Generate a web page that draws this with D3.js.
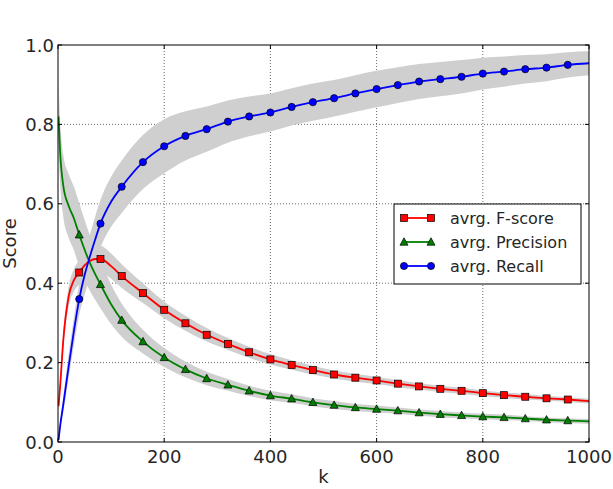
<!DOCTYPE html>
<html>
<head>
<meta charset="utf-8">
<script src="https://cdn.jsdelivr.net/npm/d3@7"></script>
<style>
  body { margin: 0; background: #fff; }
  svg text { font-family: "DejaVu Sans", sans-serif; fill: #262626; }
</style>
</head>
<body>
<div id="chart"></div>
<script>
// k values the curves were sampled at (markers sit on multiples of 40)
const kVals = [1, 4, 10, 20, 30, 40, 50, 60, 70, 80, 100, 120, 160, 200, 240, 280, 320, 360, 400,
  440, 480, 520, 560, 600, 640, 680, 720, 760, 800, 840, 880, 920, 960, 1000];

const fscore = [0.09, 0.14, 0.257, 0.366, 0.408, 0.427, 0.445, 0.456, 0.461, 0.461, 0.443, 0.418, 0.375, 0.333, 0.299, 0.270, 0.247, 0.226, 0.208,
  0.194, 0.181, 0.170, 0.162, 0.155, 0.147, 0.140, 0.134, 0.129, 0.123, 0.118, 0.114, 0.110, 0.107, 0.103];
const fscoreStd = [0.01, 0.015, 0.02, 0.025, 0.028, 0.03, 0.032, 0.033, 0.033, 0.033, 0.032, 0.03, 0.025, 0.021, 0.019, 0.017, 0.015, 0.014, 0.013,
  0.012, 0.011, 0.01, 0.01, 0.009, 0.009, 0.008, 0.008, 0.008, 0.007, 0.007, 0.007, 0.006, 0.006, 0.006];

const precision = [0.82, 0.73, 0.645, 0.595, 0.563, 0.522, 0.485, 0.451, 0.423, 0.397, 0.347, 0.307, 0.253, 0.213, 0.183, 0.160, 0.144, 0.129, 0.117,
  0.109, 0.100, 0.093, 0.087, 0.083, 0.079, 0.074, 0.070, 0.067, 0.064, 0.062, 0.059, 0.056, 0.054, 0.052];
const precisionStd = [0.09, 0.08, 0.078, 0.08, 0.08, 0.08, 0.075, 0.07, 0.065, 0.06, 0.05, 0.042, 0.03, 0.024, 0.02, 0.017, 0.015, 0.013, 0.012,
  0.011, 0.01, 0.01, 0.009, 0.009, 0.008, 0.008, 0.008, 0.007, 0.007, 0.007, 0.006, 0.006, 0.006, 0.006];

const recall = [0.005, 0.04, 0.095, 0.19, 0.28, 0.36, 0.42, 0.467, 0.51, 0.55, 0.605, 0.643, 0.705, 0.745, 0.771, 0.788, 0.807, 0.820, 0.830,
  0.844, 0.856, 0.866, 0.878, 0.889, 0.899, 0.908, 0.914, 0.920, 0.928, 0.933, 0.939, 0.943, 0.950, 0.954];
const recallStd = [0.003, 0.01, 0.02, 0.03, 0.035, 0.04, 0.05, 0.055, 0.058, 0.06, 0.063, 0.066, 0.068, 0.068, 0.062, 0.057, 0.053, 0.05, 0.048,
  0.047, 0.047, 0.046, 0.046, 0.046, 0.045, 0.044, 0.043, 0.042, 0.04, 0.038, 0.036, 0.034, 0.032, 0.03];

const xTicks = [0, 200, 400, 600, 800, 1000];
const yTicks = [0.0, 0.2, 0.4, 0.6, 0.8, 1.0];

const series = [
  { name: 'avrg. F-score', values: fscore, std: fscoreStd, color: '#ff0000', marker: 'square' },
  { name: 'avrg. Precision', values: precision, std: precisionStd, color: '#008000', marker: 'triangle' },
  { name: 'avrg. Recall', values: recall, std: recallStd, color: '#0000ff', marker: 'circle' }
];

const width = 613, height = 489;
const margin = { left: 58, right: 24, top: 45, bottom: 47 };

const svg = d3.select('#chart').append('svg')
  .attr('width', width)
  .attr('height', height);

const x = d3.scaleLinear().domain([0, 1000]).range([margin.left, width - margin.right]);
const y = d3.scaleLinear().domain([0, 1]).range([height - margin.bottom, margin.top]);

svg.append('clipPath').attr('id', 'plot-clip')
  .append('rect')
  .attr('x', x(0)).attr('y', y(1))
  .attr('width', x(1000) - x(0)).attr('height', y(0) - y(1));

// dotted grid
svg.append('g').selectAll('line').data(xTicks.slice(1, -1)).join('line')
  .attr('x1', d => x(d)).attr('x2', d => x(d))
  .attr('y1', y(0)).attr('y2', y(1))
  .attr('stroke', '#444').attr('stroke-width', 0.8).attr('stroke-dasharray', '1,2');
svg.append('g').selectAll('line').data(yTicks.slice(1, -1)).join('line')
  .attr('x1', x(0)).attr('x2', x(1000))
  .attr('y1', d => y(d)).attr('y2', d => y(d))
  .attr('stroke', '#444').attr('stroke-width', 0.8).attr('stroke-dasharray', '1,2');

const plot = svg.append('g').attr('clip-path', 'url(#plot-clip)');

// std bands first, so every line sits on top
const area = d3.area()
  .x((d, i) => x(kVals[i]))
  .curve(d3.curveMonotoneX);
series.forEach(s => {
  plot.append('path')
    .datum(s.values)
    .attr('fill', '#cfcfcf')
    .attr('d', area.y0((d, i) => y(d - s.std[i])).y1((d, i) => y(d + s.std[i])));
});

const line = d3.line()
  .x((d, i) => x(kVals[i]))
  .y(d => y(d))
  .curve(d3.curveMonotoneX);

series.forEach(s => {
  plot.append('path')
    .datum(s.values)
    .attr('fill', 'none')
    .attr('stroke', s.color)
    .attr('stroke-width', 1.8)
    .attr('d', line);
});

function drawMarker(g, type, cx, cy, color) {
  if (type === 'square') {
    g.append('rect').attr('x', cx - 3.5).attr('y', cy - 3.5).attr('width', 7).attr('height', 7)
      .attr('fill', color).attr('stroke', '#000').attr('stroke-width', 0.7);
  } else if (type === 'triangle') {
    g.append('path').attr('d', `M${cx},${cy - 4.2}L${cx + 4},${cy + 3.2}L${cx - 4},${cy + 3.2}Z`)
      .attr('fill', color).attr('stroke', '#000').attr('stroke-width', 0.7);
  } else {
    g.append('circle').attr('cx', cx).attr('cy', cy).attr('r', 3.6)
      .attr('fill', color).attr('stroke', '#000').attr('stroke-width', 0.7);
  }
}

series.forEach(s => {
  const g = plot.append('g');
  kVals.forEach((k, i) => {
    if (k % 40 === 0 && k < 1000) drawMarker(g, s.marker, x(k), y(s.values[i]), s.color);
  });
});

// frame
svg.append('rect')
  .attr('x', x(0)).attr('y', y(1))
  .attr('width', x(1000) - x(0)).attr('height', y(0) - y(1))
  .attr('fill', 'none').attr('stroke', '#000').attr('stroke-width', 1);

// inward ticks on all four sides
const tickLen = 4;
xTicks.forEach(t => {
  svg.append('line').attr('x1', x(t)).attr('x2', x(t)).attr('y1', y(0)).attr('y2', y(0) - tickLen).attr('stroke', '#000');
  svg.append('line').attr('x1', x(t)).attr('x2', x(t)).attr('y1', y(1)).attr('y2', y(1) + tickLen).attr('stroke', '#000');
  svg.append('text').attr('x', x(t)).attr('y', y(0) + 21)
    .attr('text-anchor', 'middle').attr('font-size', 18).text(t);
});
yTicks.forEach(t => {
  svg.append('line').attr('x1', x(0)).attr('x2', x(0) + tickLen).attr('y1', y(t)).attr('y2', y(t)).attr('stroke', '#000');
  svg.append('line').attr('x1', x(1000)).attr('x2', x(1000) - tickLen).attr('y1', y(t)).attr('y2', y(t)).attr('stroke', '#000');
  svg.append('text').attr('x', x(0) - 4).attr('y', y(t) + 6.5)
    .attr('text-anchor', 'end').attr('font-size', 18).text(d3.format('.1f')(t));
});

// axis labels
svg.append('text').attr('x', (x(0) + x(1000)) / 2).attr('y', 483)
  .attr('text-anchor', 'middle').attr('font-size', 18).text('k');
svg.append('text')
  .attr('transform', `translate(16,${(y(0) + y(1)) / 2}) rotate(-90)`)
  .attr('text-anchor', 'middle').attr('font-size', 18).text('Score');

// legend
const legend = svg.append('g');
legend.append('rect')
  .attr('x', 394).attr('y', 204).attr('width', 187).attr('height', 80)
  .attr('fill', '#fff').attr('stroke', '#000').attr('stroke-width', 1);
series.forEach((s, i) => {
  const ly = 218 + i * 24;
  legend.append('line').attr('x1', 404).attr('x2', 431).attr('y1', ly).attr('y2', ly)
    .attr('stroke', s.color).attr('stroke-width', 1.8);
  drawMarker(legend, s.marker, 404, ly, s.color);
  drawMarker(legend, s.marker, 431, ly, s.color);
  legend.append('text').attr('x', 450).attr('y', ly + 5.5)
    .attr('font-size', 16).text(s.name);
});
</script>
</body>
</html>
